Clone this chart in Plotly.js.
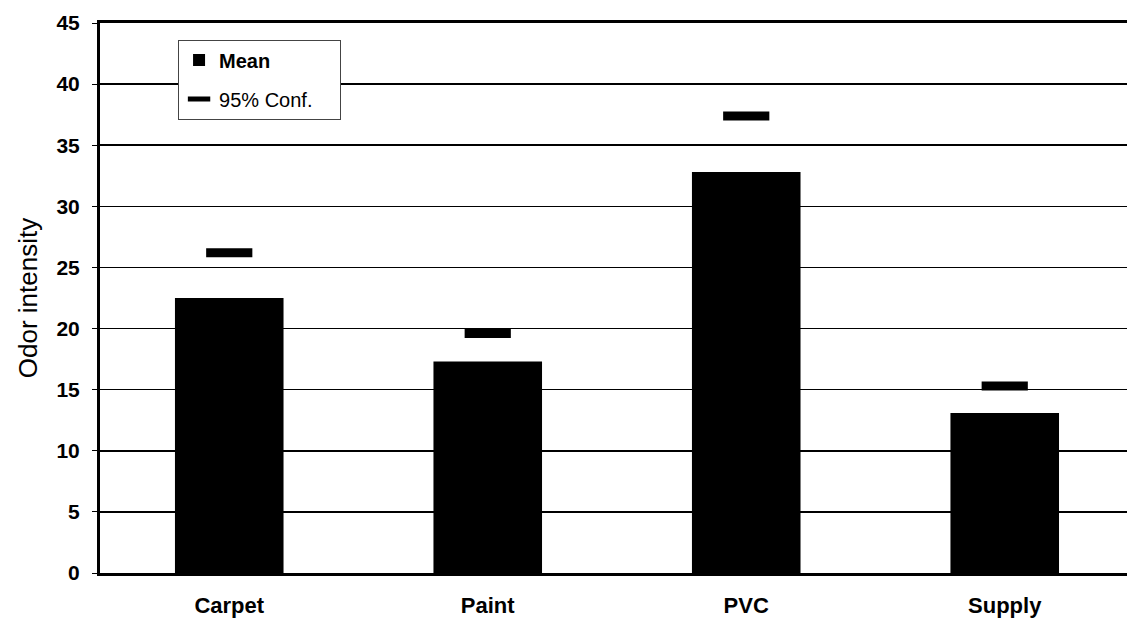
<!DOCTYPE html>
<html>
<head>
<meta charset="utf-8">
<script src="https://cdn.plot.ly/plotly-3.0.1.min.js"></script>
<style>html,body{margin:0;padding:0;background:#fff;}#chart{width:1127px;height:620px;}</style>
</head>
<body>
<div id="chart"></div>
<script>
const categories = ["Carpet", "Paint", "PVC", "Supply"];
const meanValues = [22.5, 17.3, 32.8, 13.1];
const confValues = [26.2, 19.6, 37.4, 15.3];
const yTickValues = [0, 5, 10, 15, 20, 25, 30, 35, 40, 45];
const legendNames = ["<b>Mean</b>", "95% Conf.\u00a0\u00a0\u00a0\u00a0"];

const fontFamily = "Liberation Sans, Arial, sans-serif";

const traces = [
  {
    type: "bar",
    name: legendNames[0],
    legendgroup: "mean",
    x: categories,
    y: meanValues,
    width: 0.42,
    marker: {color: "#000000", line: {width: 0}},
    hoverinfo: "x+y"
  },
  {
    type: "scatter",
    mode: "markers",
    name: legendNames[1],
    legendgroup: "conf",
    x: categories,
    y: confValues,
    marker: {symbol: "line-ew", size: 33, color: "#000", line: {color: "#000", width: 9}},
    hoverinfo: "x+y"
  }
];

const layout = {
  width: 1127,
  height: 620,
  margin: {l: 100, r: 0, t: 23, b: 47},
  paper_bgcolor: "#ffffff",
  plot_bgcolor: "#ffffff",
  font: {family: fontFamily, color: "#000", size: 20},
  showlegend: true,
  legend: {
    x: 0.076, y: 0.97, xanchor: "left", yanchor: "top",
    bgcolor: "#ffffff", bordercolor: "#444", borderwidth: 1,
    font: {family: fontFamily, size: 20, color: "#000"},
    traceorder: "grouped", tracegroupgap: 10,
    itemwidth: 30
  },
  xaxis: {
    type: "category",
    range: [-0.5, 3.473],
    showline: true, linecolor: "#000", linewidth: 3, mirror: true,
    showgrid: false, zeroline: false,
    ticks: "", ticklabelstandoff: 11,
    tickfont: {family: fontFamily, size: 22, color: "#000", weight: "bold"},
    fixedrange: true
  },
  yaxis: {
    range: [0, 45],
    tickvals: yTickValues,
    ticktext: yTickValues.map(String),
    showline: true, linecolor: "#000", linewidth: 3,
    showgrid: true, gridcolor: "#000", gridwidth: 1.5,
    zeroline: false,
    ticks: "outside", ticklen: 5, tickcolor: "#000", tickwidth: 1,
    ticklabelstandoff: 8,
    tickfont: {family: fontFamily, size: 21, color: "#000", weight: "bold"},
    title: {text: "Odor intensity", font: {family: fontFamily, size: 26, color: "#000"}, standoff: 12},
    fixedrange: true
  }
};

Plotly.newPlot("chart", traces, layout, {displayModeBar: false, staticPlot: true});
</script>
</body>
</html>
